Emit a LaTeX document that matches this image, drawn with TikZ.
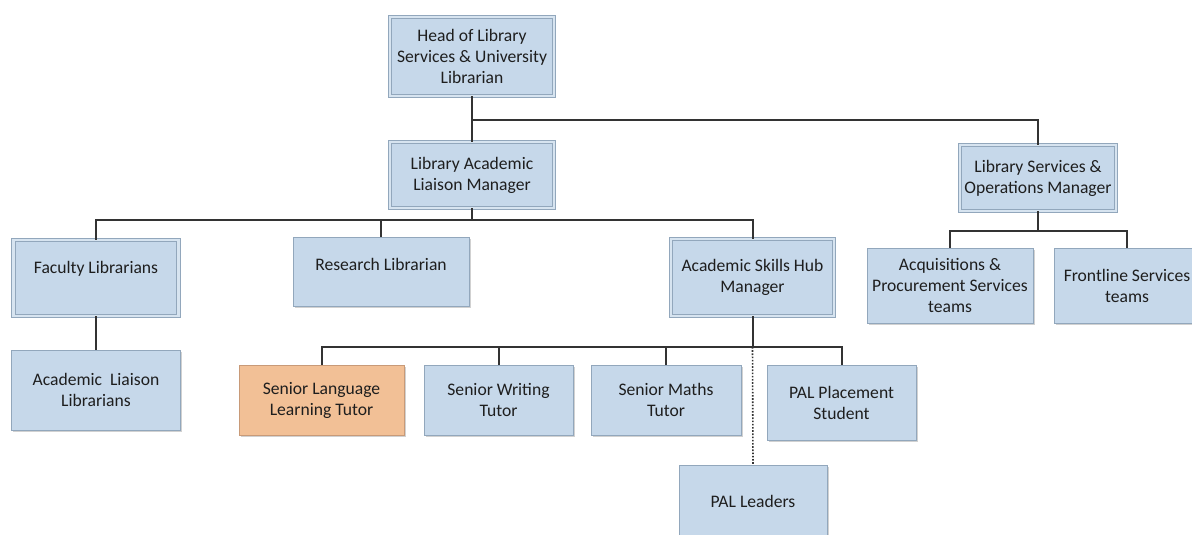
\documentclass[tikz,border=0pt]{standalone}
\usepackage{fontspec}
\setmainfont{Carlito}
\usetikzlibrary{shadows}
\definecolor{boxfill}{HTML}{C6D8EA}
\definecolor{boxline}{HTML}{92A7BC}
\definecolor{orfill}{HTML}{F2C096}
\definecolor{orline}{HTML}{C89A78}
\definecolor{conn}{HTML}{333333}
\definecolor{txt}{HTML}{1E1E1E}
\tikzset{
  orgbox/.style={draw=boxline, fill=boxfill, line width=1pt, align=center,
    inner sep=2pt, text=txt, font=\fontsize{17.6}{21}\selectfont,
    drop shadow={shadow xshift=1.5pt, shadow yshift=-1.5pt, fill=black, opacity=0.18}},
  mgrbox/.style={orgbox, double=boxfill!70!white, double distance=2.4pt, line width=0.9pt},
  orbox/.style={orgbox, draw=orline, fill=orfill},
  link/.style={draw=conn, line width=2pt},
  dotlink/.style={draw=conn, line width=1.6pt, dash pattern=on 1.6pt off 1.6pt}
}
\begin{document}
\begin{tikzpicture}[x=1pt,y=-1pt]
\useasboundingbox (0,0) rectangle (1192,535);
% nodes
\node[mgrbox, minimum width=164pt, minimum height=79pt] (head) at (472,56.5) {Head of Library\\Services \& University\\Librarian};
\node[mgrbox, minimum width=164pt, minimum height=66pt] (lalm) at (472,175) {Library Academic\\Liaison Manager};
\node[mgrbox, minimum width=156pt, minimum height=66pt] (lsom) at (1038,178) {Library Services \&\\Operations Manager};
\node[mgrbox, minimum width=165pt, minimum height=76pt] (fac) at (96,278) {Faculty Librarians\\\mbox{}};
\node[orgbox, minimum width=176pt, minimum height=69pt, text depth=14pt] (res) at (381,271.5) {Research Librarian};
\node[mgrbox, minimum width=163pt, minimum height=77pt] (ashm) at (752.5,277.5) {Academic Skills Hub\\Manager};
\node[orgbox, minimum width=166pt, minimum height=75pt] (acq) at (950,285.5) {Acquisitions \&\\Procurement Services\\teams};
\node[orgbox, minimum width=146pt, minimum height=75pt] (front) at (1127,285.5) {Frontline Services\\teams};
\node[orgbox, minimum width=169pt, minimum height=80pt] (all) at (96,390) {Academic~~Liaison\\Librarians};
\node[orbox, minimum width=165pt, minimum height=70pt] (sllt) at (321.5,400) {Senior Language\\Learning Tutor};
\node[orgbox, minimum width=149pt, minimum height=70pt] (swt) at (498.5,400) {Senior Writing\\Tutor};
\node[orgbox, minimum width=150pt, minimum height=70pt] (smt) at (666,400) {Senior Maths\\Tutor};
\node[orgbox, minimum width=149pt, minimum height=75pt] (pal) at (841.5,402.5) {PAL Placement\\Student};
\node[orgbox, minimum width=148pt, minimum height=72pt] (pall) at (753,501) {PAL Leaders};
% bus coordinates
\coordinate (b0) at (472,120);
\coordinate (b1) at (472,220);
\coordinate (b2) at (752.5,347);
\coordinate (b3) at (1038,231);
% connectors
\draw[link] (head.south) -- (lalm.north);
\draw[link] (b0) -| (lsom.north);
\draw[link] (lalm.south) -- (b1);
\draw[link] (b1) -| (fac.north);
\draw[link] (b1) -| (res.north);
\draw[link] (b1) -| (ashm.north);
\draw[link] (fac.south) -- (all.north);
\draw[link] (ashm.south) -- (b2);
\draw[link] (b2) -| (sllt.north);
\draw[link] (b2) -| (swt.north);
\draw[link] (b2) -| (smt.north);
\draw[link] (b2) -| (pal.north);
\draw[dotlink] (b2) -- (pall.north);
\draw[link] (lsom.south) -- (b3);
\draw[link] (b3) -| (acq.north);
\draw[link] (b3) -| (front.north);
\end{tikzpicture}
\end{document}
